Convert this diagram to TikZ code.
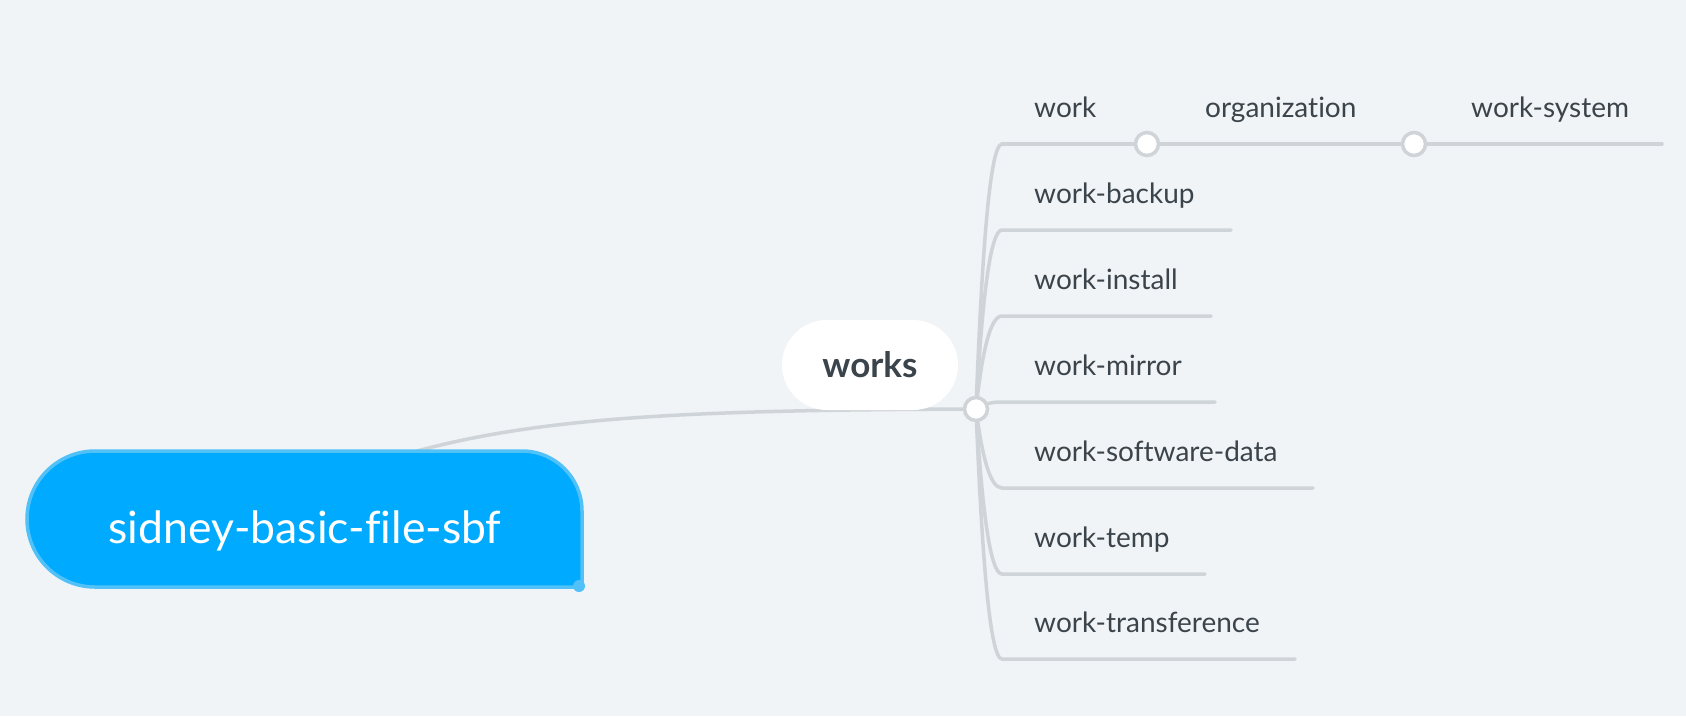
\documentclass[tikz,border=0pt]{standalone}
\usepackage{fontspec}
\setmainfont{Lato}[Ligatures=NoCommon]
\definecolor{bg}{HTML}{F0F4F7}
\definecolor{ln}{HTML}{CFD4D8}
\definecolor{tx}{HTML}{3B444B}
\definecolor{rootfill}{HTML}{00AAFF}
\definecolor{rootedge}{HTML}{52C1F8}
\tikzset{
  conn/.style={draw=ln, line width=3.5pt, line cap=round},
  knob/.style={circle, draw=ln, fill=white, line width=3.5pt, inner sep=0pt, minimum size=23pt},
  lbl/.style={anchor=base west, text=tx, inner sep=0pt, font=\fontsize{28}{34}\selectfont},
}
\begin{document}
\begin{tikzpicture}[x=1pt,y=-1pt]
\fill[bg] (0,0) rectangle (1686,716);
\useasboundingbox (0,0) rectangle (1686,716);

% coordinates
\coordinate (rtop) at (417,451);
\coordinate (s1) at (1002,144);
\coordinate (s2) at (1002,230);
\coordinate (s3) at (1002,316);
\coordinate (s4) at (1002,402);
\coordinate (s5) at (1002,488);
\coordinate (s6) at (1002,574);
\coordinate (s7) at (1002,659);
\coordinate (e1) at (1662,144);
\coordinate (e2) at (1231,230);
\coordinate (e3) at (1211,316);
\coordinate (e4) at (1215,402);
\coordinate (e5) at (1313,488);
\coordinate (e6) at (1205,574);
\coordinate (e7) at (1295,659);
\coordinate (hubc) at (976,409);

% root to hub connector
\draw[conn] (rtop) .. controls (547,416) and (700,410) .. (hubc);

% branches
\draw[conn] (hubc) .. controls (982,250) and (990,144) .. (s1);
\draw[conn] (hubc) .. controls (982,302) and (990,230) .. (s2) -- (e2);
\draw[conn] (hubc) .. controls (982,353) and (990,316) .. (s3) -- (e3);
\draw[conn] (hubc) .. controls (985,404) and (990,402) .. (s4) -- (e4);
\draw[conn] (hubc) .. controls (982,456) and (990,488) .. (s5) -- (e5);
\draw[conn] (hubc) .. controls (982,508) and (990,574) .. (s6) -- (e6);
\draw[conn] (hubc) .. controls (982,559) and (990,659) .. (s7) -- (e7);

% first branch chain
\node[knob] (k1) at (1147,144) {};
\node[knob] (k2) at (1414,144) {};
\draw[conn] (s1) -- (k1) (k1) -- (k2) (k2) -- (e1);

\node[knob] (hub) at (hubc) {};

% works node
\node[fill=white, rounded corners=45pt, minimum width=176pt, minimum height=90pt, inner sep=0pt,
      text=tx, font=\bfseries\fontsize{35}{40}\selectfont] (works) at (870,365) {works};

% root shape
\path[fill=rootfill, draw=rootedge, line width=3.5pt]
  (95,587) .. controls (57.4,587) and (27,556.6) .. (27,519)
  .. controls (27,481.4) and (57.4,451) .. (95,451)
  -- (522,451) .. controls (555.1,451) and (582,477.9) .. (582,511)
  -- (582,587) -- cycle;
\fill[rootedge] (579,586) circle (6);
\node[anchor=base, text=white, inner sep=0pt, font=\fontsize{44.5}{50}\selectfont] (root) at (305,543) {sidney-basic-file-sbf};

% labels
\node[lbl] (l1) at (1034,117) {work};
\node[lbl] (l1b) at (1205,117) {organization};
\node[lbl] (l1c) at (1471,117) {work-system};
\node[lbl] (l2) at (1034,203) {work-backup};
\node[lbl] (l3) at (1034,289) {work-install};
\node[lbl] (l4) at (1034,375) {work-mirror};
\node[lbl] (l5) at (1034,461) {work-software-data};
\node[lbl] (l6) at (1034,547) {work-temp};
\node[lbl] (l7) at (1034,632) {work-transference};
\end{tikzpicture}
\end{document}
